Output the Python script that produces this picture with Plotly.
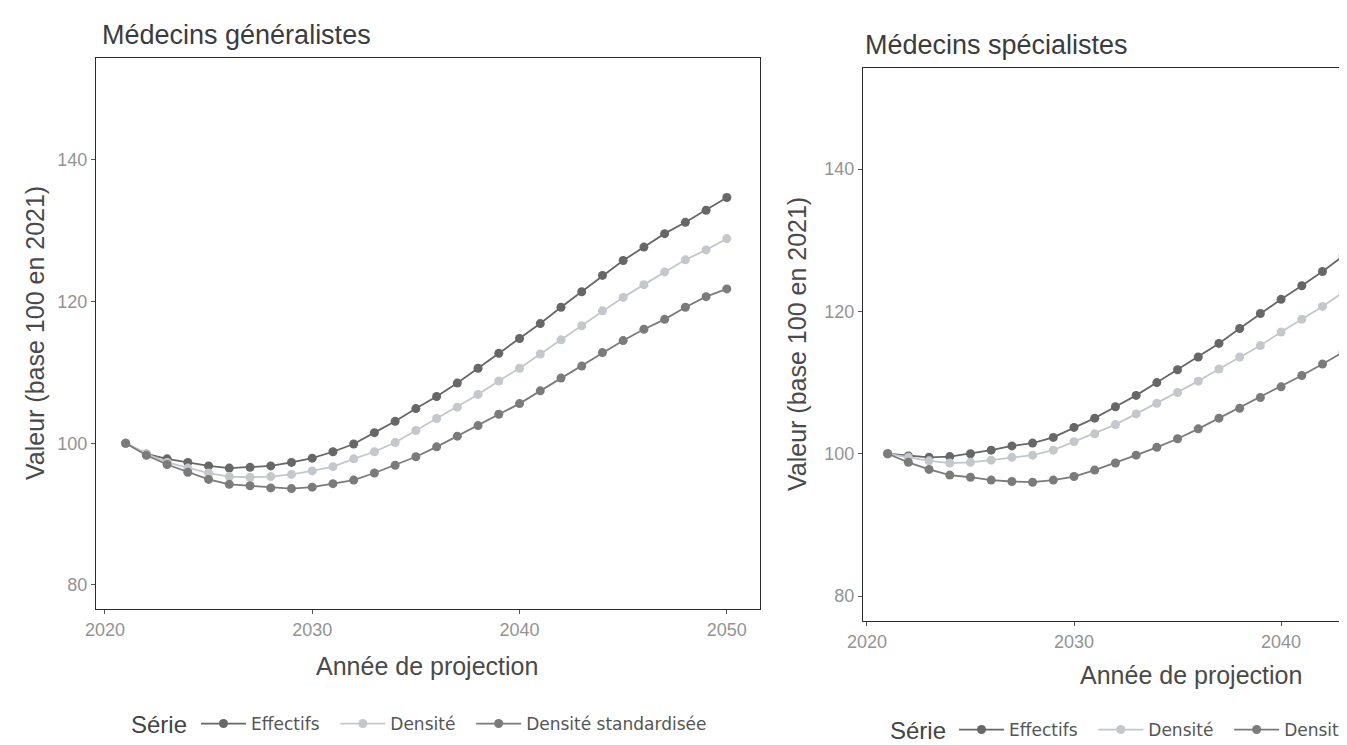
import plotly.graph_objects as go

W, H = 1347, 745

years = list(range(2021, 2051))

# Médecins généralistes (base 100 en 2021)
gen_effectifs = [100, 98.5, 97.8, 97.3, 96.8, 96.5, 96.6, 96.8, 97.3, 97.9,
                 98.8, 99.9, 101.5, 103.1, 104.9, 106.6, 108.5, 110.6, 112.7, 114.8,
                 116.9, 119.2, 121.4, 123.7, 125.8, 127.7, 129.6, 131.2, 132.9, 134.7]
gen_densite = [100, 98.5, 97.3, 96.5, 95.8, 95.3, 95.2, 95.3, 95.6, 96.1,
               96.7, 97.8, 98.8, 100.1, 101.8, 103.5, 105.1, 106.9, 108.8, 110.6,
               112.6, 114.6, 116.6, 118.7, 120.6, 122.4, 124.2, 125.9, 127.3, 128.9]
gen_densite_std = [100, 98.3, 97.0, 95.9, 94.9, 94.2, 94.0, 93.7, 93.6, 93.8,
                   94.3, 94.8, 95.8, 96.9, 98.1, 99.5, 101.0, 102.5, 104.1, 105.6,
                   107.4, 109.2, 110.9, 112.8, 114.5, 116.1, 117.5, 119.2, 120.7, 121.8]

# Médecins spécialistes (visible part of the panel, 2021-2043)
years_spe = list(range(2021, 2044))
spe_effectifs = [100, 99.7, 99.5, 99.6, 100.0, 100.5, 101.1, 101.5, 102.3, 103.7,
                 105.0, 106.6, 108.2, 110.0, 111.8, 113.6, 115.5, 117.6, 119.7, 121.7,
                 123.6, 125.6, 127.8]
spe_densite = [100, 99.5, 99.0, 98.7, 98.8, 99.1, 99.5, 99.8, 100.5, 101.7,
               102.8, 104.1, 105.6, 107.1, 108.6, 110.2, 111.9, 113.6, 115.2, 117.1,
               118.9, 120.7, 122.7]
spe_densite_std = [100, 98.8, 97.8, 97.0, 96.7, 96.3, 96.1, 96.0, 96.3, 96.8,
                   97.7, 98.7, 99.8, 100.9, 102.1, 103.5, 105.0, 106.4, 107.9, 109.4,
                   111.0, 112.6, 114.3]

series_names = ["Effectifs", "Densité", "Densité standardisée"]
colors = ["#676767", "#c4c7cc", "#7b7b7b"]
legend_title = "Série"

y_ticks = [80, 100, 120, 140]
x_ticks = [2020, 2030, 2040, 2050]

NB = "\u00a0"


def px(x):
    return x / W


def py(y):
    return 1 - y / H


fig = go.Figure()

for name, vals, col in zip(series_names, [gen_effectifs, gen_densite, gen_densite_std], colors):
    fig.add_trace(go.Scatter(
        x=years, y=vals, name=name + NB * 2, mode="lines+markers",
        line=dict(color=col, width=1.8), marker=dict(color=col, size=9),
        xaxis="x", yaxis="y", legend="legend"))

for name, vals, col in zip(series_names, [spe_effectifs, spe_densite, spe_densite_std], colors):
    fig.add_trace(go.Scatter(
        x=years_spe, y=vals, name=name + NB * 2, mode="lines+markers",
        line=dict(color=col, width=1.8), marker=dict(color=col, size=9),
        xaxis="x2", yaxis="y2", legend="legend2"))

axis_common = dict(showgrid=False, zeroline=False, showline=True, linecolor="#2a2a2a",
                   linewidth=1.4, ticks="outside", ticklen=4, tickcolor="#555555",
                   tickfont=dict(family="Liberation Sans, Arial", size=18, color="#939393"))

legend_common = dict(orientation="h", xanchor="left", yanchor="middle", itemwidth=45,
                     font=dict(family="DejaVu Sans", size=17, color="#555555"),
                     bgcolor="rgba(0,0,0,0)")

fig.update_layout(
    width=W, height=H,
    margin=dict(l=0, r=0, t=0, b=0, autoexpand=False),
    paper_bgcolor="white", plot_bgcolor="white",
    font=dict(family="Liberation Sans, Arial", color="#444444"),
    xaxis=dict(domain=[px(88), px(752)], range=[2019.57, 2051.6], tickvals=x_ticks,
               mirror=True, anchor="y", **axis_common),
    yaxis=dict(domain=[py(601), py(50)], range=[76.6, 154.4], tickvals=y_ticks,
               mirror=True, anchor="x", **axis_common),
    xaxis2=dict(domain=[px(855), 1.0], range=[2019.81, 2043.57], tickvals=x_ticks,
                mirror=True, anchor="y2", **axis_common),
    yaxis2=dict(domain=[py(613), py(60)], range=[76.5, 154.2], tickvals=y_ticks,
                mirror=False, anchor="x2", **axis_common),
    legend=dict(x=px(188), y=py(716), **legend_common),
    legend2=dict(x=px(946), y=py(722), **legend_common),
)

ann = []
ann.append(dict(text="Médecins généralistes", x=px(92), y=py(27), xref="paper", yref="paper",
                xanchor="left", yanchor="middle", showarrow=False,
                font=dict(size=27, color="#3c3c3c")))
ann.append(dict(text="Médecins spécialistes", x=px(855), y=py(37), xref="paper", yref="paper",
                xanchor="left", yanchor="middle", showarrow=False,
                font=dict(size=27, color="#3c3c3c")))
ann.append(dict(text="Valeur (base 100 en 2021)", x=px(27), y=py(325), xref="paper", yref="paper",
                xanchor="center", yanchor="middle", showarrow=False, textangle=-90,
                font=dict(size=25, color="#4a4a4a")))
ann.append(dict(text="Valeur (base 100 en 2021)", x=px(789), y=py(336), xref="paper", yref="paper",
                xanchor="center", yanchor="middle", showarrow=False, textangle=-90,
                font=dict(size=25, color="#4a4a4a")))
ann.append(dict(text="Année de projection", x=px(419), y=py(658), xref="paper", yref="paper",
                xanchor="center", yanchor="middle", showarrow=False,
                font=dict(size=25, color="#4a4a4a")))
ann.append(dict(text="Année de projection", x=px(1183), y=py(667), xref="paper", yref="paper",
                xanchor="center", yanchor="middle", showarrow=False,
                font=dict(size=25, color="#4a4a4a")))
ann.append(dict(text=legend_title, x=px(121), y=py(716), xref="paper", yref="paper",
                xanchor="left", yanchor="middle", showarrow=False,
                font=dict(size=24, color="#444444")))
ann.append(dict(text=legend_title, x=px(880), y=py(722), xref="paper", yref="paper",
                xanchor="left", yanchor="middle", showarrow=False,
                font=dict(size=24, color="#444444")))
fig.update_layout(annotations=ann)

fig.write_html("out.html")
